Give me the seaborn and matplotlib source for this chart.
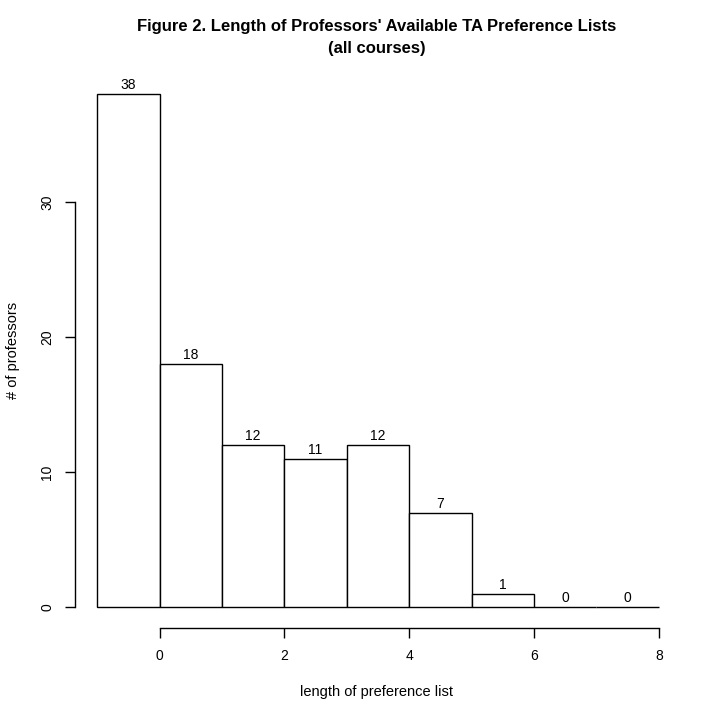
import numpy as np
import matplotlib
matplotlib.use("Agg")
import matplotlib.pyplot as plt
import seaborn as sns

# Histogram data: bin edges and counts
bin_edges = [-1, 0, 1, 2, 3, 4, 5, 6, 7, 8]
counts = [38, 18, 12, 11, 12, 7, 1, 0, 0]
x_ticks = [0, 2, 4, 6, 8]
y_ticks = [0, 10, 20, 30]

sns.set_style("white", {"xtick.bottom": True, "ytick.left": True})
plt.rcParams["font.family"] = ["Liberation Sans", "DejaVu Sans"]
plt.rcParams["text.color"] = "black"

fig = plt.figure(figsize=(7.2, 7.2), dpi=100)
W = H = 720
left, right, top, bottom = 59, 697, 80, 640
ax = fig.add_axes([left / W, 1 - bottom / H, (right - left) / W, (bottom - top) / H])

centers = [(a + b) / 2 for a, b in zip(bin_edges[:-1], bin_edges[1:])]
sns.histplot(x=centers, weights=counts, bins=bin_edges, color="white",
             edgecolor="black", linewidth=1, alpha=1, ax=ax)

for c, n in zip(centers, counts):
    ax.text(c, n + 0.15, str(n), ha="center", va="bottom", fontsize=10, color="black")

ax.set_xlim(-1.61, 8.61)
ax.set_ylim(-2.44, 39.04)

for s in ["top", "right"]:
    ax.spines[s].set_visible(False)
ax.spines["left"].set_position(("data", -1.352))
ax.spines["bottom"].set_position(("data", -1.556))
ax.spines["left"].set_bounds(0, 30)
ax.spines["bottom"].set_bounds(0, 8)
for s in ["left", "bottom"]:
    ax.spines[s].set_color("black")
    ax.spines[s].set_linewidth(1)

ax.set_xticks(x_ticks)
ax.set_yticks(y_ticks)
ax.set_yticklabels([str(t) for t in y_ticks], rotation=90, va="center")
ax.tick_params(axis="both", which="major", bottom=True, left=True, direction="out",
               length=7, width=1, colors="black", labelsize=10, pad=8)
ax.set_xlabel("")
ax.set_ylabel("")

fig.text(377 / W, 1 - 692 / H, "length of preference list", ha="center", va="center", fontsize=10.5)
fig.text(13 / W, 1 - 350 / H, "# of professors", ha="center", va="center", rotation=90, fontsize=10.5)
fig.text(377 / W, 1 - 26 / H, "Figure 2. Length of Professors' Available TA Preference Lists",
         ha="center", va="center", fontsize=12, fontweight="bold")
fig.text(377 / W, 1 - 48 / H, "(all courses)", ha="center", va="center", fontsize=12, fontweight="bold")

fig.savefig("out.png", dpi=100)
